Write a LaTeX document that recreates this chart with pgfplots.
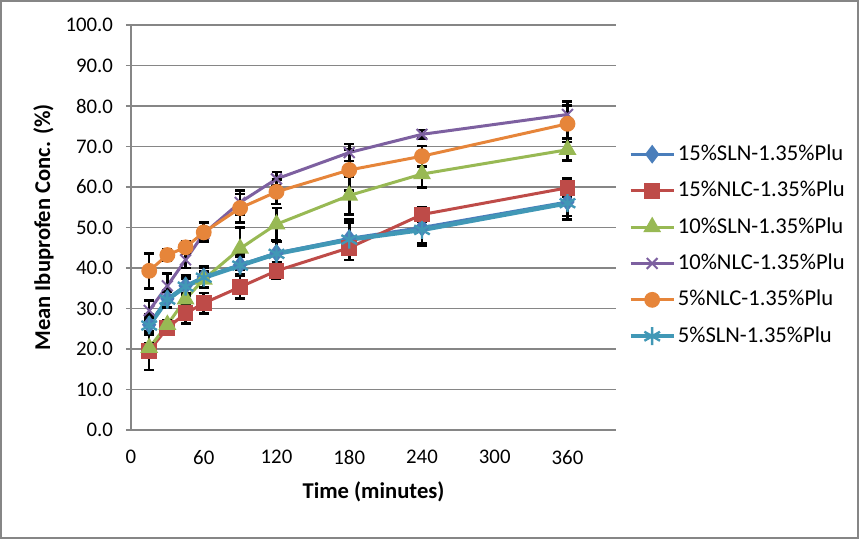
\documentclass[border=0pt]{standalone}
\usepackage{fontspec}
\setmainfont{Carlito}
\usepackage{pgfplots}
\usepackage{pgfplotstable}
\pgfplotsset{compat=1.18}

\definecolor{gridgray}{HTML}{868686}
\definecolor{sblue}{HTML}{4A7EBB}
\definecolor{sred}{HTML}{BE4B48}
\definecolor{sgreen}{HTML}{98B954}
\definecolor{spurple}{HTML}{7D60A0}
\definecolor{sorange}{HTML}{E6853A}
\definecolor{steal}{HTML}{4198B6}

% time (min), mean conc. (%), error
\pgfplotstableread{
t y e
15 26.0 2.5
30 32.4 2.0
45 35.6 2.5
60 37.8 2.5
90 40.8 2.5
120 43.7 3.0
180 47.3 4.0
240 50.0 4.0
360 56.3 3.5
}\slnfifteen
\pgfplotstableread{
t y e
15 19.6 4.8
30 25.2 1.5
45 28.8 2.5
60 31.3 2.5
90 35.3 2.8
120 39.3 2.0
180 45.0 1.3
240 53.2 1.7
360 59.8 2.3
}\nlcfifteen
\pgfplotstableread{
t y e
15 20.3 1.0
30 26.0 1.0
45 32.3 1.5
60 37.2 2.0
90 44.8 5.2
120 50.8 4.0
180 57.9 4.7
240 63.2 3.3
360 69.2 2.7
}\slnten
\pgfplotstableread{
t y e
15 29.5 2.5
30 35.6 3.0
45 42.0 2.0
60 48.5 1.5
90 56.2 3.0
120 62.0 1.7
180 68.5 2.1
240 73.0 1.1
360 77.9 3.2
}\nlcten
\pgfplotstableread{
t y e
15 39.3 4.3
30 43.2 1.5
45 45.1 1.5
60 48.8 2.4
90 54.8 3.5
120 58.8 3.0
180 64.2 5.0
240 67.6 2.5
360 75.6 4.5
}\nlcfive
\pgfplotstableread{
t y e
15 25.8 2.0
30 32.2 2.0
45 35.4 2.0
60 37.6 2.5
90 40.6 2.2
120 43.5 3.0
180 47.0 5.0
240 49.4 4.0
360 56.0 4.1
}\slnfive

\begin{document}
\begin{tikzpicture}
\useasboundingbox (0pt,0pt) rectangle (429.5pt,269.5pt);
\draw[gridgray, line width=1pt] (0.5pt,0.5pt) rectangle (429pt,269pt);
\begin{axis}[
    at={(65.5pt,54.5pt)}, anchor=south west,
    scale only axis,
    width=242.5pt, height=202.5pt,
    xmin=0, xmax=400, ymin=0, ymax=100,
    xtick={0,60,...,360},
    ytick={0,10,...,100},
    axis x line*=bottom, axis y line*=left,
    axis line style={gridgray, line width=0.6pt},
    ymajorgrids, grid style={gridgray, line width=0.6pt},
    xtick style={draw=none},
    ytick style={gridgray, line width=0.6pt},
    tick align=outside, major tick length=2.5pt,
    yticklabel style={/pgf/number format/.cd, fixed, fixed zerofill, precision=1, /tikz/.cd, xshift=-3pt},
    /pgf/number format/assume math mode=true,
    xticklabel style={yshift=-4pt},
    tick label style={font=\fontsize{10.4pt}{12pt}\selectfont},
    label style={font=\bfseries\fontsize{11.3pt}{13pt}\selectfont},
    xlabel={Time (minutes)},
    ylabel={Mean Ibuprofen Conc. (\%)},
    xlabel style={yshift=-2pt},
    ylabel style={yshift=-1pt},
    clip=false,
    error bars/y dir=both, error bars/y explicit,
    error bars/error mark=-,
    error bars/error bar style={black, line width=1.3pt, solid},
    error bars/error mark options={rotate=90, black, line width=1.3pt, mark size=2.5pt, solid},
    legend style={at={(1.027,0.709)}, anchor=north west, xshift=-3.5pt, yshift=1.5pt,
        draw=none, fill=none,
        font=\fontsize{11.3pt}{13pt}\selectfont,
        nodes={inner sep=0pt, text height=8pt, text depth=2pt},
        row sep=8.2pt, column sep=1pt},
    legend cell align=left,
    legend image code/.code={\draw[mark repeat=2, mark phase=2] plot coordinates {(0pt,0pt)(10.75pt,0pt)(21.5pt,0pt)};},
]
\addplot[sblue, line width=1.5pt, mark=diamond*, mark size=3.5pt, mark options={solid, fill=sblue}]
    table[x=t, y=y, y error=e] {\slnfifteen};
\addlegendentry{15\%SLN-1.35\%Plu}
\addplot[sred, line width=1.5pt, mark=square*, mark size=3.2pt, mark options={solid, fill=sred}]
    table[x=t, y=y, y error=e] {\nlcfifteen};
\addlegendentry{15\%NLC-1.35\%Plu}
\addplot[sgreen, line width=1.5pt, mark=triangle*, mark size=3.7pt, mark options={solid, fill=sgreen}]
    table[x=t, y=y, y error=e] {\slnten};
\addlegendentry{10\%SLN-1.35\%Plu}
\addplot[spurple, line width=1.5pt, mark=x, mark size=3.8pt, mark options={solid, line width=1pt}]
    table[x=t, y=y, y error=e] {\nlcten};
\addlegendentry{10\%NLC-1.35\%Plu}
\addplot[sorange, line width=1.5pt, mark=*, mark size=3.2pt, mark options={solid, fill=sorange}]
    table[x=t, y=y, y error=e] {\nlcfive};
\addlegendentry{5\%NLC-1.35\%Plu}
\addplot[steal, line width=2.2pt, mark=asterisk, mark size=4.5pt, mark options={solid, line width=1.2pt}]
    table[x=t, y=y, y error=e] {\slnfive};
\addlegendentry{5\%SLN-1.35\%Plu}
\end{axis}
\end{tikzpicture}
\end{document}
